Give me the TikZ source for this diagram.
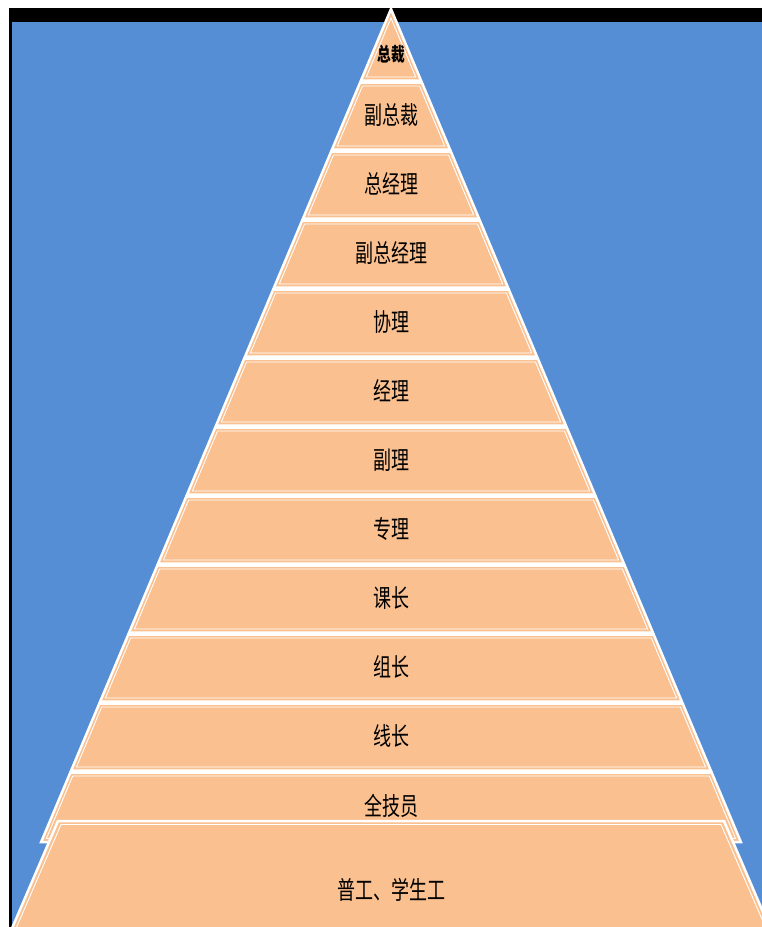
\documentclass[tikz,border=0pt]{standalone}
\usepackage{fontspec}
\newfontfamily\cjk{Noto Sans CJK SC}
\definecolor{bgblue}{HTML}{558ED5}
\definecolor{peach}{HTML}{FAC090}
\tikzset{
  layerbox/.style={fill=peach, draw=white, line width=2.5pt, line join=miter},
  innerline/.style={draw=white, line width=0.9pt},
  lbl/.style={font=\cjk\fontsize{25}{25}\selectfont, text=black, inner sep=0pt},
  toplbl/.style={font=\cjk\bfseries\fontsize{19}{19}\selectfont, text=black, inner sep=0pt}
}
\newcommand\stretchtxt[1]{\scalebox{0.72}[1]{#1}}
\begin{document}
\begin{tikzpicture}[x=1pt,y=-1pt]
\useasboundingbox (0,0) rectangle (762,927);
\clip (0,0) rectangle (762,927);
\fill[white] (0,0) rectangle (762,927);
\fill[black] (9,8) rectangle (762,927);
\fill[bgblue] (12,22) rectangle (762,927);
\def\cx{391}
% top triangle
\pgfmathsetmacro\wb{0.42*(80.5-9)}
\draw[layerbox] (\cx,9) -- (\cx+\wb,80.5) -- (\cx-\wb,80.5) -- cycle;
\pgfmathsetmacro\wi{0.42*(77-9)-3.8}
\draw[innerline] (\cx,18) -- (\cx+\wi,77) -- (\cx-\wi,77) -- cycle;
% middle layers
\foreach \t/\b in {82.5/149.5,151.5/218.5,220.5/287.5,289.5/356.5,358.5/425.5,427.5/494.5,496.5/563.5,565.5/632.5,634.5/701.5,703.5/770.5,772.5/842}{
  \pgfmathsetmacro\wt{0.42*(\t-9)}
  \pgfmathsetmacro\wb{0.42*(\b-9)}
  \draw[layerbox] (\cx-\wt,\t) -- (\cx+\wt,\t) -- (\cx+\wb,\b) -- (\cx-\wb,\b) -- cycle;
  \pgfmathsetmacro\ti{\t+3.5}
  \pgfmathsetmacro\bi{\b-3.5}
  \pgfmathsetmacro\wti{0.42*(\ti-9)-3.8}
  \pgfmathsetmacro\wbi{0.42*(\bi-9)-3.8}
  \draw[innerline] (\cx-\wti,\ti) -- (\cx+\wti,\ti) -- (\cx+\wbi,\bi) -- (\cx-\wbi,\bi) -- cycle;
}
% bottom layer
\draw[layerbox] (\cx-333,821) -- (\cx+333,821) -- (\cx+384,940) -- (\cx-384,940) -- cycle;
\draw[innerline] (\cx-330,824.5) -- (\cx+330,824.5) -- (\cx+380,940) -- (\cx-380,940) -- cycle;
% labels
\node[toplbl] (l1) at (\cx,54) {\stretchtxt{总裁}};
\node[lbl] (l2) at (\cx,115) {\stretchtxt{副总裁}};
\node[lbl] (l3) at (\cx,184) {\stretchtxt{总经理}};
\node[lbl] (l4) at (\cx,253) {\stretchtxt{副总经理}};
\node[lbl] (l5) at (\cx,322) {\stretchtxt{协理}};
\node[lbl] (l6) at (\cx,391) {\stretchtxt{经理}};
\node[lbl] (l7) at (\cx,460) {\stretchtxt{副理}};
\node[lbl] (l8) at (\cx,529) {\stretchtxt{专理}};
\node[lbl] (l9) at (\cx,598) {\stretchtxt{课长}};
\node[lbl] (l10) at (\cx,667) {\stretchtxt{组长}};
\node[lbl] (l11) at (\cx,736) {\stretchtxt{线长}};
\node[lbl] (l12) at (\cx,806) {\stretchtxt{全技员}};
\node[lbl] (l13) at (\cx,890) {\stretchtxt{普工、学生工}};
\end{tikzpicture}
\end{document}
